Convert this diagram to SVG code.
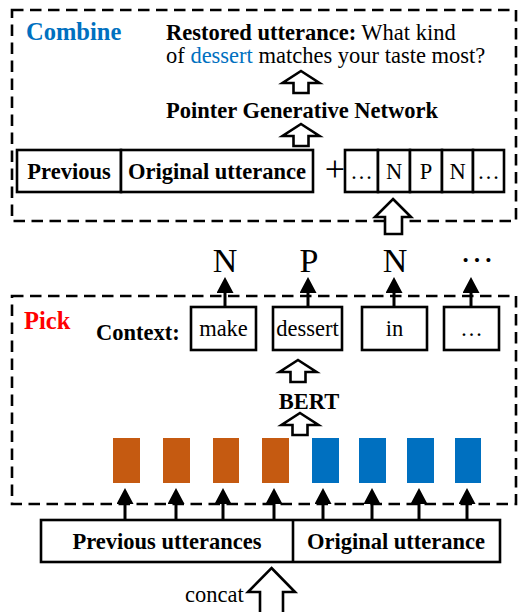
<svg xmlns="http://www.w3.org/2000/svg" width="518" height="612" viewBox="0 0 518 612">
  <style>
    .t { font-family: "Liberation Serif", "Times New Roman", serif; font-size: 22.5px; fill: #000; }
    .b { font-weight: bold; }
    .mid { text-anchor: middle; }
    .frame { fill: none; stroke: #000; stroke-width: 2.6; stroke-dasharray: 11.5 6.5; }
    .box { fill: #fff; stroke: #000; stroke-width: 2.6; }
    .hollow { fill: #fff; stroke: #000; stroke-width: 2.6; stroke-linejoin: miter; }
    .arr { stroke: #000; stroke-width: 3; fill: none; marker-end: url(#head); }
    .prev { fill: #C55A11; }
    .orig { fill: #0070C0; }
  </style>
  <defs>
    <marker id="head" viewBox="0 0 16 17" refX="2" refY="8.5" markerWidth="16" markerHeight="17" markerUnits="userSpaceOnUse" orient="auto">
      <path d="M0,0 L16,8.5 L0,17 Z" fill="#000"/>
    </marker>
    <!-- small hollow block arrow, tip at origin -->
    <path id="hArrow" d="M0,0 L18.5,12 L7.5,12 L7.5,22 L-7.5,22 L-7.5,12 L-18.5,12 Z"/>
  </defs>

  <rect width="518" height="612" fill="#fff"/>

  <!-- stage frames -->
  <g id="combine-stage">
    <rect class="frame" x="12" y="10" width="504" height="211"/>
    <text class="t b" x="26" y="40" style="font-size:24.5px;fill:#0070C0">Combine</text>
  </g>
  <g id="pick-stage">
    <rect class="frame" x="12" y="296" width="504" height="208"/>
    <text class="t b" x="24" y="329" style="font-size:24.5px;fill:#FF0000">Pick</text>
  </g>

  <!-- combine stage -->
  <g id="restored">
    <text class="t" x="166" y="40"><tspan class="b">Restored utterance:</tspan> What kind</text>
    <text class="t" x="166" y="63">of <tspan fill="#0070C0">dessert</tspan> matches your taste most?</text>
  </g>
  <g id="pgn">
    <text class="t b" x="166" y="118">Pointer Generative Network</text>
  </g>
  <g id="combine-input">
    <rect class="box" x="17" y="150" width="104" height="42"/>
    <rect class="box" x="121" y="150" width="192" height="42"/>
    <text class="t b mid" x="69" y="179">Previous</text>
    <text class="t b mid" x="217" y="179">Original utterance</text>
  </g>
  <g id="plus">
    <text class="t mid" x="335" y="181" style="font-size:36px">+</text>
  </g>
  <g id="tag-seq">
    <rect class="box" x="345" y="150" width="33" height="42"/>
    <rect class="box" x="378" y="150" width="32" height="42"/>
    <rect class="box" x="410" y="150" width="32" height="42"/>
    <rect class="box" x="442" y="150" width="31" height="42"/>
    <rect class="box" x="473" y="150" width="31" height="42"/>
    <text class="t mid" x="361.5" y="179">…</text>
    <text class="t mid" x="394" y="179">N</text>
    <text class="t mid" x="426" y="179">P</text>
    <text class="t mid" x="457.5" y="179">N</text>
    <text class="t mid" x="488.5" y="179">…</text>
  </g>

  <!-- tags -->
  <g id="tags">
    <text class="t mid" x="225" y="272" style="font-size:34px">N</text>
    <text class="t mid" x="309" y="272" style="font-size:34px">P</text>
    <text class="t mid" x="395" y="272" style="font-size:34px">N</text>
    <text class="t mid" x="477" y="262" style="font-size:34px">…</text>
  </g>

  <!-- pick stage -->
  <g id="context">
    <text class="t b" x="96" y="340">Context:</text>
    <rect class="box" x="191" y="307" width="65" height="43"/>
    <rect class="box" x="273" y="307" width="69" height="43"/>
    <rect class="box" x="362" y="307" width="65" height="43"/>
    <rect class="box" x="444" y="307" width="55" height="43"/>
    <text class="t mid" x="223.5" y="336">make</text>
    <text class="t mid" x="307.5" y="336">dessert</text>
    <text class="t mid" x="394.5" y="336">in</text>
    <text class="t mid" x="471.5" y="336">…</text>
  </g>
  <g id="bert">
    <text class="t b mid" x="309" y="409">BERT</text>
  </g>
  <g id="embeddings">
    <rect class="prev" x="113" y="438" width="27" height="45"/>
    <rect class="prev" x="163" y="438" width="27" height="45"/>
    <rect class="prev" x="213" y="438" width="26" height="45"/>
    <rect class="prev" x="262" y="438" width="27" height="45"/>
    <rect class="orig" x="312" y="438" width="27" height="45"/>
    <rect class="orig" x="359" y="438" width="27" height="45"/>
    <rect class="orig" x="407" y="438" width="27" height="45"/>
    <rect class="orig" x="455" y="438" width="26" height="45"/>
  </g>

  <!-- input -->
  <g id="input">
    <rect class="box" x="41" y="520" width="459" height="42"/>
    <line x1="293" y1="520" x2="293" y2="562" stroke="#000" stroke-width="2.6"/>
    <text class="t b mid" x="167" y="549">Previous utterances</text>
    <text class="t b mid" x="396" y="549">Original utterance</text>
  </g>
  <g id="concat">
    <text class="t" x="185" y="602">concat</text>
  </g>

  <!-- connectors -->
  <g id="connectors">
    <use href="#hArrow" class="hollow" transform="translate(301,71)"/>
    <use href="#hArrow" class="hollow" transform="translate(301,124)"/>
    <path class="hollow" d="M393,199 L411,217 L402,217 L402,234 L385,234 L385,217 L375,217 Z"/>
    <use href="#hArrow" class="hollow" transform="translate(298,360)"/>
    <use href="#hArrow" class="hollow" transform="translate(300,413)"/>
    <path class="hollow" d="M271.5,568 L295,592 L283,592 L283,614 L260,614 L260,592 L248,592 Z"/>

    <line class="arr" x1="225" y1="307" x2="225" y2="291"/>
    <line class="arr" x1="308" y1="307" x2="308" y2="291"/>
    <line class="arr" x1="394" y1="307" x2="394" y2="291"/>
    <line class="arr" x1="471" y1="307" x2="471" y2="291"/>

    <line class="arr" x1="125" y1="520" x2="125" y2="502"/>
    <line class="arr" x1="176" y1="520" x2="176" y2="502"/>
    <line class="arr" x1="223" y1="520" x2="223" y2="502"/>
    <line class="arr" x1="274" y1="520" x2="274" y2="502"/>
    <line class="arr" x1="323" y1="520" x2="323" y2="502"/>
    <line class="arr" x1="372" y1="520" x2="372" y2="502"/>
    <line class="arr" x1="419" y1="520" x2="419" y2="502"/>
    <line class="arr" x1="467" y1="520" x2="467" y2="502"/>
  </g>
</svg>
